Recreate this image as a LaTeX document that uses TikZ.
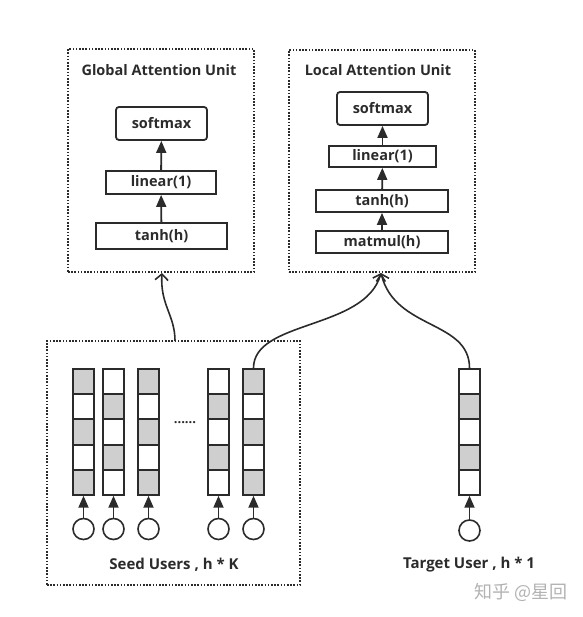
\documentclass[tikz,border=0pt]{standalone}
\usepackage{fontspec}
\setmainfont{Open Sans}
\newfontfamily\cjkfont{Noto Sans CJK SC}
\usetikzlibrary{arrows.meta}
\definecolor{ink}{HTML}{2B2B2B}
\definecolor{cellgray}{HTML}{CFCFCF}
\tikzset{
  dotbox/.style={draw=ink, line width=1.6pt, dash pattern=on 1.6pt off 1.6pt, inner sep=0pt},
  opbox/.style={draw=ink, line width=1.8pt, inner sep=0pt, font=\bfseries\fontsize{14.5}{16}\selectfont, text=ink},
  softbox/.style={opbox, rounded corners=3pt},
  title/.style={font=\bfseries\fontsize{14.5}{16}\selectfont, text=ink, inner sep=0pt},
  label/.style={font=\bfseries\fontsize{15}{17}\selectfont, text=ink, inner sep=0pt},
  cellw/.style={draw=ink, line width=1.8pt, fill=white, minimum width=21pt, minimum height=25pt, inner sep=0pt},
  cellg/.style={cellw, fill=cellgray},
  usr/.style={draw=ink, line width=1.6pt, circle, minimum size=21pt, inner sep=0pt},
  up/.style={draw=ink, line width=1.8pt, -{Triangle[length=12pt,width=10pt]}},
  flow/.style={draw=ink, line width=1.6pt, -{Straight Barb[length=6pt,width=13pt,line width=1.6pt]}},
}
\begin{document}
\begin{tikzpicture}[x=1pt,y=-1pt]
\useasboundingbox (0,0) rectangle (582,617);
% Global attention unit
\node[dotbox, minimum width=186pt, minimum height=223pt] (gau) at (161,160.5) {};
\node[title] (gtitle) at (159,70) {Global Attention Unit};
\node[softbox, minimum width=91pt, minimum height=33pt] (gsoft) at (161.5,123.5) {softmax};
\node[opbox, minimum width=110pt, minimum height=23pt] (glin) at (161,182.5) {linear(1)};
\node[opbox, minimum width=131pt, minimum height=26pt] (gtanh) at (161.5,236) {tanh(h)};
\draw[up] (gtanh) -- (glin);
\draw[up] (glin) -- (gsoft);
% Local attention unit
\node[dotbox, minimum width=186pt, minimum height=222pt] (lau) at (382,161) {};
\node[title] (ltitle) at (378,70) {Local Attention Unit};
\node[softbox, minimum width=91pt, minimum height=33pt] (lsoft) at (382.5,108.5) {softmax};
\node[opbox, minimum width=107pt, minimum height=21pt] (llin) at (382.5,156.5) {linear(1)};
\node[opbox, minimum width=132pt, minimum height=22pt] (ltanh) at (382,201) {tanh(h)};
\node[opbox, minimum width=132pt, minimum height=22pt] (lmat) at (382,242) {matmul(h)};
\draw[up] (lmat) -- (ltanh);
\draw[up] (ltanh) -- (llin);
\draw[up] (llin) -- (lsoft);
% Seed users box
\node[dotbox, minimum width=253pt, minimum height=244pt] (seed) at (173.5,463) {};
% columns
\foreach \i/\x/\q in {1/83.5/0, 2/113.5/1, 3/148.5/0, 4/218.5/1, 5/253.5/0, 6/469.5/1}{
  \foreach \j in {1,...,5}{
    \pgfmathsetmacro{\yy}{369+12.5+(\j-1)*25.2}
    \pgfmathtruncatemacro{\isg}{mod(\j+\q,2)}
    \ifnum\isg=1
      \node[cellg] (c\i-\j) at (\x,\yy) {};
    \else
      \node[cellw] (c\i-\j) at (\x,\yy) {};
    \fi
  }
}
\foreach \i/\x in {1/83.5, 2/113.5, 3/148.5, 4/218.5, 5/253.5}{
  \node[usr] (u\i) at (\x,529) {};
  \draw[up] (u\i) -- (c\i-5);
}
\node[usr] (u6) at (469.5,530.5) {};
\draw[up] (u6) -- (c6-5);
\node[font=\bfseries\fontsize{13}{15}\selectfont, text=ink, inner sep=0pt] (dots) at (185,423) {......};
\node[label] (seedlab) at (174,565) {Seed Users , h * K};
\node[label] (tgtlab) at (469,565) {Target User , h * 1};
\node[font=\cjkfont\fontsize{18}{20}\selectfont, text=black!30, inner sep=0pt] (wm) at (521,592) {知乎 @星回};
% connectors
\coordinate (gout) at (175,341);
\coordinate (gin) at (162,273);
\coordinate (lin) at (381,273);
\draw[flow] (gout) .. controls (175,315) and (160,305) .. (gin);
\draw[flow] (c5-1.north) .. controls (253.5,320) and (365,330) .. (lin);
\draw[flow] (c6-1.north) .. controls (469.5,320) and (395,330) .. (lin);
\end{tikzpicture}
\end{document}
